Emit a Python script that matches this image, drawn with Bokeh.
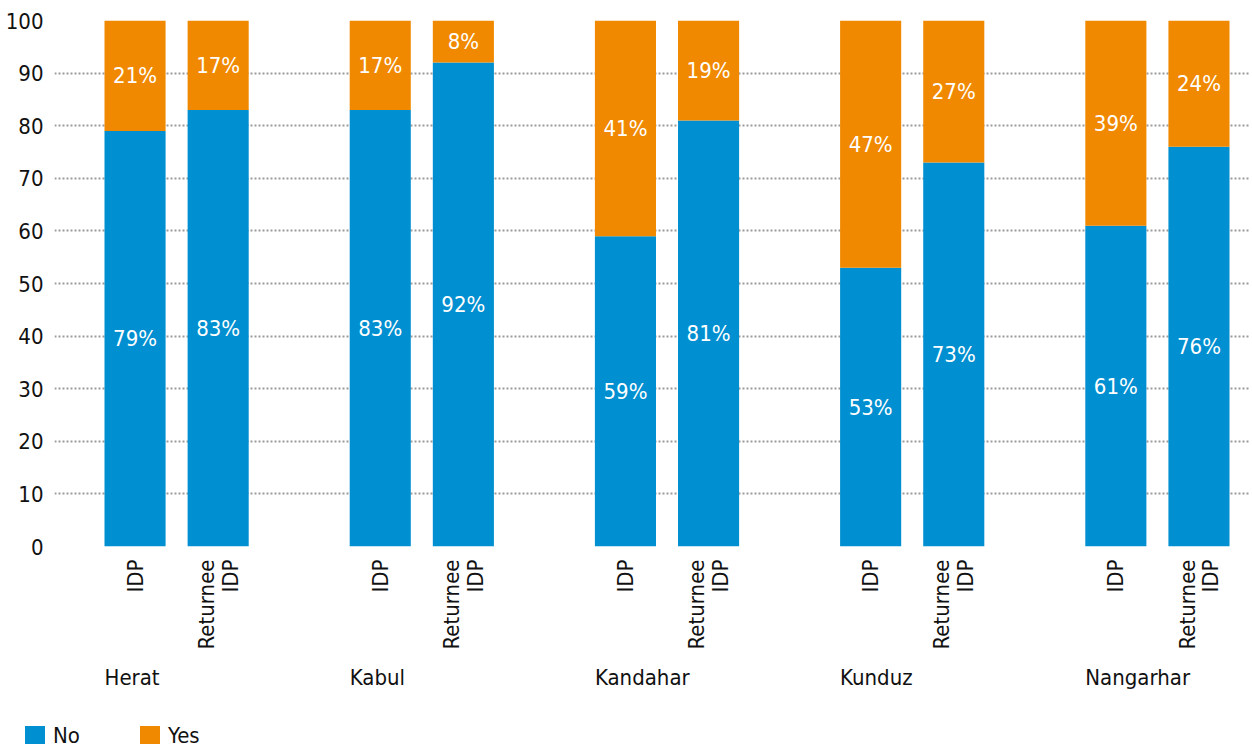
import math
from bokeh.plotting import figure
from bokeh.layouts import column
from bokeh.models import (ColumnDataSource, FixedTicker, Range1d, Legend,
                          LegendItem)
from bokeh.core.properties import value
from bokeh.embed import file_html
from bokeh.resources import INLINE

# ---------------- data ----------------
cities = ["Herat", "Kabul", "Kandahar", "Kunduz", "Nangarhar"]
groups = ["IDP", "Returnee\nIDP"]
no_vals = [79, 83, 83, 92, 59, 81, 53, 73, 61, 76]
yes_vals = [21, 17, 17, 8, 41, 19, 47, 27, 39, 24]
y_ticks = [0, 10, 20, 30, 40, 50, 60, 70, 80, 90, 100]
series = ["No", "Yes"]

# ---------------- style ----------------
FONT = "DejaVu Sans Condensed"
FS = "22px"
TXT = "#111111"
BLUE = "#008FD0"
ORANGE = "#F08900"
GROUP_STEP = 59
BAR_OFFSET = 10
BAR_W = 14.7
X_START, X_END = -29.38, 258.4
W = 1250
LEFT = 54

xs, sub_labels, city_x, city_names = [], [], [], []
for i, c in enumerate(cities):
    for j, g in enumerate(groups):
        x = i * GROUP_STEP + (2 * j - 1) * BAR_OFFSET
        xs.append(x)
        sub_labels.append(g)
        if j == 0:
            city_x.append(x - BAR_W / 2)
            city_names.append(c)

tops = [n + y for n, y in zip(no_vals, yes_vals)]
src = ColumnDataSource(dict(
    x=xs, no=no_vals, yes=yes_vals, top=tops,
    no_mid=[n / 2 for n in no_vals],
    yes_mid=[n + y / 2 for n, y in zip(no_vals, yes_vals)],
    no_txt=[f"{n}%" for n in no_vals],
    yes_txt=[f"{y}%" for y in yes_vals],
))

p = figure(width=W, height=656, output_backend="svg", toolbar_location=None,
           x_range=Range1d(X_START, X_END), y_range=Range1d(0, 100),
           min_border_top=20, min_border_left=LEFT, min_border_right=0,
           min_border_bottom=110)
p.outline_line_color = None
p.frame_align = False

p.vbar(x="x", width=BAR_W, bottom=0, top="no", source=src,
       fill_color=BLUE, line_color=None)
p.vbar(x="x", width=BAR_W, bottom="no", top="top", source=src,
       fill_color=ORANGE, line_color=None)

for ycol, tcol in (("no_mid", "no_txt"), ("yes_mid", "yes_txt")):
    p.text(x="x", y=ycol, text=tcol, source=src, text_color="white",
           text_font=value(FONT), text_font_size=FS, text_align="center",
           text_baseline="middle")

# grid
p.xgrid.visible = False
p.ygrid.ticker = FixedTicker(ticks=y_ticks)
p.ygrid.grid_line_color = "#9a9a9a"
p.ygrid.grid_line_width = 2
p.ygrid.grid_line_dash = "2 2"

# y axis
p.yaxis.ticker = FixedTicker(ticks=y_ticks)
p.yaxis.axis_line_color = None
p.yaxis.major_tick_line_color = None
p.yaxis.minor_tick_line_color = None
p.yaxis.major_label_standoff = 5
p.yaxis.major_label_text_font = FONT
p.yaxis.major_label_text_font_size = FS
p.yaxis.major_label_text_color = TXT

# x axis (sub-group labels)
p.xaxis.ticker = FixedTicker(ticks=xs)
p.xaxis.major_label_overrides = {x: l for x, l in zip(xs, sub_labels)}
p.xaxis.major_label_orientation = math.pi / 2
p.xaxis.axis_line_color = None
p.xaxis.major_tick_line_color = None
p.xaxis.minor_tick_line_color = None
p.xaxis.major_label_standoff = 7
p.xaxis.major_label_text_font = FONT
p.xaxis.major_label_text_font_size = FS
p.xaxis.major_label_text_color = TXT
p.xaxis.major_label_text_line_height = 0.95

# ---------- lower strip: city names and legend ----------
H2 = 88
ppu = (W - LEFT) / (X_END - X_START)
p2 = figure(width=W, height=H2, output_backend="svg", toolbar_location=None,
            x_range=Range1d(X_START - LEFT / ppu, X_END), y_range=Range1d(0, H2),
            x_axis_type=None, y_axis_type=None,
            min_border_top=0, min_border_left=0, min_border_right=0,
            min_border_bottom=0)
p2.outline_line_color = None
p2.grid.visible = False
p2.frame_align = False

csrc = ColumnDataSource(dict(x=city_x, y=[H2 - 21] * len(city_x), t=city_names))
p2.text(x="x", y="y", text="t", source=csrc, text_font=value(FONT),
        text_font_size=FS, text_color=TXT, text_align="left",
        text_baseline="alphabetic")

# legend swatches: hidden copies of the series, used only by the legend
leg_no = p2.vbar(x="x", top="no", width=BAR_W, source=src,
                 fill_color=BLUE, line_color=None, visible=False)
leg_yes = p2.vbar(x="x", bottom="no", top="top", width=BAR_W, source=src,
                  fill_color=ORANGE, line_color=None, visible=False)

legend = Legend(items=[LegendItem(label=series[0], renderers=[leg_no]),
                       LegendItem(label=series[1], renderers=[leg_yes])],
                location=(22, -4), orientation="horizontal",
                glyph_width=25, glyph_height=25, label_standoff=6,
                label_width=79, spacing=5, padding=0, margin=0,
                border_line_color=None, background_fill_alpha=0,
                label_text_font=FONT, label_text_font_size=FS,
                label_text_color=TXT)
p2.add_layout(legend)

layout = column(p, p2, spacing=0)
open("out.html", "w").write(file_html(layout, INLINE))
